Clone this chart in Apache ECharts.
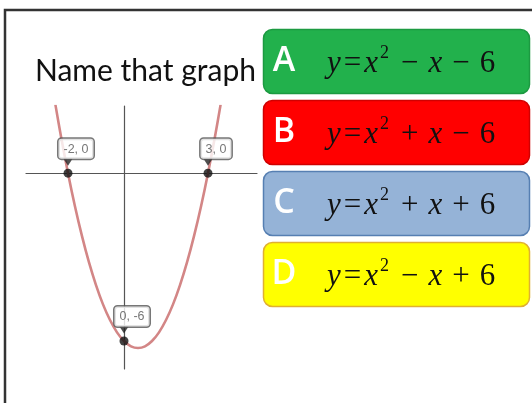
<!DOCTYPE html>
<html>
<head>
<meta charset="utf-8">
<script src="https://cdn.jsdelivr.net/npm/echarts@6/dist/echarts.min.js"></script>
<style>
html, body { margin: 0; padding: 0; background: #fff; }
#main { width: 532px; height: 403px; }
</style>
</head>
<body>
<div id="main"></div>
<script>
// parabola
var curveX = [-2.45, -2.25, -2, -1.75, -1.5, -1.25, -1, -0.75, -0.5, -0.25, 0, 0.25, 0.5,
	0.75, 1, 1.25, 1.5, 1.75, 2, 2.25, 2.5, 2.75, 3, 3.25, 3.45];
var curveY = [2.45, 1.31, 0, -1.19, -2.25, -3.19, -4, -4.69, -5.25, -5.69, -6, -6.19, -6.25,
	-6.19, -6, -5.69, -5.25, -4.69, -4, -3.19, -2.25, -1.19, 0, 1.31, 2.45];

// marked points
var pointX = [-2, 3, 0];
var pointY = [0, 0, -6];
var pointLabels = ['-2, 0', '3, 0', '0, -6'];

// answer choices
var letters = ['A', 'B', 'C', 'D'];
var linearSigns = ['\u2212', '+', '+', '\u2212'];
var constSigns = ['\u2212', '\u2212', '+', '+'];
var constants = ['6', '6', '6', '6'];

var boxFill = ['#22b14c', '#ff0000', '#95b3d7', '#ffff00'];
var boxStroke = ['#1c9a41', '#d00000', '#567fb2', '#e0b030'];
var boxTop = [29, 100, 171, 242];

var chart = echarts.init(document.getElementById('main'));

var curveData = [];
for (var i = 0; i < curveX.length; i++) {
	curveData.push([curveX[i], curveY[i]]);
}
var pointData = [];
for (var j = 0; j < pointX.length; j++) {
	pointData.push({ value: [pointX[j], pointY[j]], name: pointLabels[j] });
}

var graphics = [
	// frame
	{
		type : 'polyline',
		shape : { points : [ [ 5, 403 ], [ 5, 10 ], [ 532, 10 ] ] },
		style : { stroke : '#333', lineWidth : 2.5, fill : null },
		z : 10
	},
	{
		type : 'text',
		x : 35,
		y : 71,
		style : {
			text : 'Name that graph',
			font : '30px Lato',
			fill : '#111',
			textVerticalAlign : 'middle'
		}
	}
];

for (var k = 0; k < letters.length; k++) {
	graphics.push({
		type : 'rect',
		shape : { x : 263.5, y : boxTop[k] + 0.5, width : 266, height : 64, r : 9 },
		style : { fill : boxFill[k], stroke : boxStroke[k], lineWidth : 1.5 }
	});
	graphics.push({
		type : 'text',
		x : 284,
		y : boxTop[k] + 32,
		style : {
			text : letters[k],
			font : '600 34px "Open Sans"',
			fill : '#fff',
			textAlign : 'center',
			textVerticalAlign : 'middle'
		}
	});
	graphics.push({
		type : 'text',
		x : 327,
		y : boxTop[k] + 35,
		style : {
			text : '{v|y}{e|=}{v|x}{s|2}{o|' + linearSigns[k] + '}{v|x}{o|'
					+ constSigns[k] + '}{n|' + constants[k] + '}',
			textVerticalAlign : 'middle',
			rich : {
				v : { fontFamily : 'Liberation Serif', fontStyle : 'italic', fontSize : 31, lineHeight : 40, fill : '#111' },
				n : { fontFamily : 'Liberation Serif', fontSize : 31, lineHeight : 40, fill : '#111' },
				e : { fontFamily : 'Liberation Serif', fontSize : 31, lineHeight : 40, fill : '#111', padding : [ 0, 3 ] },
				o : { fontFamily : 'Liberation Serif', fontSize : 31, lineHeight : 40, fill : '#111', padding : [ 0, 10 ] },
				s : { fontFamily : 'Liberation Serif', fontSize : 18, lineHeight : 18, fill : '#111', verticalAlign : 'top', padding : [ 0, 2 ] }
			}
		}
	});
}

chart.setOption({
	animation : false,
	grid : { left : 26, top : 106, width : 231, height : 263 },
	xAxis : {
		type : 'value',
		min : -3.5,
		max : 4.75,
		axisLine : { onZero : true, lineStyle : { color : '#555', width : 1.2 } },
		axisTick : { show : false },
		axisLabel : { show : false },
		splitLine : { show : false }
	},
	yAxis : {
		type : 'value',
		min : -7,
		max : 2.4,
		axisLine : { onZero : true, lineStyle : { color : '#555', width : 1.2 } },
		axisTick : { show : false },
		axisLabel : { show : false },
		splitLine : { show : false }
	},
	series : [ {
		type : 'line',
		data : curveData,
		smooth : 0.3,
		symbol : 'none',
		lineStyle : { color : '#d38686', width : 2.6 },
		z : 2
	}, {
		// pointer under each label
		type : 'scatter',
		data : pointData,
		symbol : 'triangle',
		symbolRotate : 180,
		symbolSize : [ 9, 7 ],
		symbolOffset : [ 0, -11 ],
		itemStyle : { color : '#222' },
		z : 3
	}, {
		type : 'scatter',
		data : pointData,
		symbolSize : 9,
		itemStyle : { color : '#111' },
		label : {
			show : true,
			position : 'top',
			distance : 10,
			offset : [ 8, 0 ],
			formatter : '{b}',
			fontFamily : 'Liberation Sans',
			fontSize : 12.5,
			color : '#555',
			backgroundColor : '#fff',
			borderColor : '#555',
			borderWidth : 1.5,
			borderRadius : 3,
			padding : [ 4, 5, 3, 5 ]
		},
		z : 4
	} ],
	graphic : graphics
});
</script>
</body>
</html>
